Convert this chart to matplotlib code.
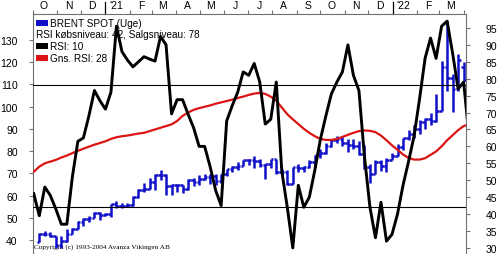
import matplotlib
matplotlib.use("Agg")
import matplotlib.pyplot as plt
import pandas as pd
from matplotlib.patches import Rectangle

plt.rcParams['font.family'] = ['Liberation Sans', 'DejaVu Sans']

# ugebarer (fredag)
uger = pd.date_range("2020-10-09", periods=78, freq="7D")
# RSI-kurverne har en uge før og en uge efter barerne
rsi_uger = pd.date_range("2020-10-02", periods=80, freq="7D")

aabning = [39.3, 42.9, 42.9, 41.8, 37.9, 39.5, 42.8, 45.0, 48.2, 49.3,
           50.0, 52.3, 51.3, 51.8, 56.0, 55.1, 55.4, 55.9, 59.3, 62.4,
           62.9, 66.1, 69.4, 69.2, 64.5, 64.6, 64.9, 63.0, 66.8, 66.1,
           67.3, 68.3, 68.7, 66.4, 69.6, 71.9, 72.7, 73.5, 76.2, 76.2,
           75.6, 73.6, 74.1, 76.3, 70.7, 70.6, 65.2, 72.7, 72.6, 72.9,
           75.3, 78.1, 79.3, 82.4, 84.9, 85.5, 83.7, 82.7, 82.2, 78.9,
           72.7, 69.9, 75.2, 73.5, 76.1, 77.8, 81.8, 86.1, 87.9, 90.0,
           93.3, 94.4, 93.5, 98.0, 118.0, 113.0, 108.0, 118.0]
hoej = [43.2, 43.9, 43.4, 42.0, 41.9, 45.0, 45.2, 48.7, 49.9, 50.9,
        52.5, 52.5, 52.0, 56.4, 57.4, 56.7, 56.6, 59.8, 62.8, 65.5,
        67.7, 69.6, 71.4, 69.7, 65.0, 65.3, 64.9, 67.5, 67.8, 69.1,
        69.9, 69.9, 69.8, 69.7, 72.0, 73.1, 74.9, 76.2, 76.6, 77.8,
        76.6, 74.2, 76.5, 76.3, 72.0, 71.3, 72.7, 74.0, 73.2, 76.1,
        78.4, 80.8, 83.5, 85.1, 86.7, 86.7, 85.3, 85.5, 84.6, 82.9,
        74.0, 76.0, 75.9, 76.9, 79.3, 83.0, 86.1, 89.5, 91.7, 94.0,
        95.0, 97.1, 105.8, 120.5, 138.5, 114.5, 123.5, 120.0]
lav = [39.2, 41.6, 41.5, 36.6, 36.5, 39.3, 42.6, 45.0, 46.2, 48.2,
       49.8, 49.2, 50.6, 50.4, 54.6, 54.6, 54.7, 55.5, 59.0, 61.6,
       62.9, 62.5, 67.0, 60.3, 60.3, 61.5, 61.2, 62.7, 64.5, 64.6,
       67.0, 65.3, 64.6, 65.8, 69.0, 70.8, 71.7, 73.2, 73.8, 72.6,
       72.9, 67.4, 72.3, 69.9, 68.7, 64.6, 65.0, 70.6, 70.6, 72.5,
       73.0, 77.0, 78.9, 81.9, 83.5, 82.1, 79.8, 81.0, 78.2, 72.1,
       65.7, 69.5, 71.0, 70.5, 76.0, 77.8, 80.6, 85.2, 85.8, 87.7,
       89.9, 91.6, 92.9, 98.0, 107.0, 97.5, 107.0, 111.5]
luk = [42.9, 42.9, 41.8, 37.9, 39.5, 42.8, 45.0, 48.2, 49.3, 50.0,
       52.3, 51.3, 51.8, 56.0, 55.1, 55.4, 55.9, 59.3, 62.4, 62.9,
       66.1, 69.4, 69.2, 64.5, 64.6, 64.9, 63.0, 66.8, 66.1, 67.3,
       68.3, 68.7, 66.4, 69.6, 71.9, 72.7, 73.5, 76.2, 76.2, 75.6,
       73.6, 74.1, 76.3, 70.7, 70.6, 65.2, 72.7, 72.6, 72.9, 75.3,
       78.1, 79.3, 82.4, 84.9, 85.5, 83.7, 82.7, 82.2, 78.9, 72.7,
       69.9, 75.2, 73.5, 76.1, 77.8, 81.8, 86.1, 87.9, 90.0, 93.3,
       94.4, 93.5, 97.9, 118.0, 113.0, 108.0, 121.0, 112.0]

rsi = [46, 39.5, 48, 45.5, 41.5, 37, 37, 51, 61.5, 62.5,
       69, 76.5, 73.5, 71, 76, 95.5, 88, 85.5, 83.5, 85,
       86.5, 85.8, 85.2, 92.5, 90, 69.6, 73.8, 73.8, 69.5, 65.5,
       60, 60, 54, 47, 42.5, 67.5, 72, 76, 82, 81,
       84.5, 79, 66.6, 68, 79, 52.7, 42, 30, 48.5, 42,
       45, 53, 62, 69, 75.5, 79, 82, 90, 81, 76.5,
       57, 42, 33, 43.5, 32, 34, 40, 48.5, 55.5, 63,
       74, 86, 92, 86, 95.5, 97, 87.5, 77, 79, 62.5]
gns_rsi = [52.5, 54, 55, 55.5, 56, 56.7, 57.3, 58, 58.7, 59.3,
           59.9, 60.5, 61, 61.5, 62.2, 62.7, 63, 63.2, 63.5, 63.8,
           64, 64.5, 65, 65.5, 66, 66.5, 67.5, 69, 70, 70.8,
           71.3, 71.7, 72.1, 72.6, 73, 73.4, 73.8, 74.3, 74.7, 75.2,
           75.6, 75.8, 75.5, 74.7, 73.5, 71.5, 69.5, 68, 66.6, 65.2,
           64, 63, 62.2, 61.9, 61.9, 62.2, 62.8, 63.4, 64, 64.5,
           64.7, 64.6, 64.2, 63.2, 61.8, 60.3, 59, 57.6, 56.6, 56.1,
           56.1, 56.5, 57.5, 58.5, 60, 61.8, 63.3, 64.8, 66, 66.5]

mdr_labels = ["O", "N", "D", "'21", "F", "M", "A", "M", "J", "J",
              "A", "S", "O", "N", "D", "'22", "F", "M"]

blaa = "#1010c8"
roed = "#dc1414"
graa = "#707070"

fig = plt.figure(figsize=(5, 2.55), dpi=100)
ax = fig.add_axes([0.066, 0.0, 0.866, 0.941])
ax2 = ax.twinx()

# kursbarer: høj-lav streg, åbning til venstre, luk til højre
td = pd.Timedelta(days=3.3)
ax.vlines(uger, lav, hoej, color=blaa, lw=1.8)
ax.hlines(aabning, uger - td, uger, color=blaa, lw=1.8)
ax.hlines(luk, uger, uger + td, color=blaa, lw=1.8)

# RSI og gennemsnit
ax2.axhline(78, color="black", lw=0.8, zorder=1)
ax2.axhline(42, color="black", lw=0.8, zorder=1)
ax2.plot(rsi_uger, gns_rsi, color=roed, lw=1.6, zorder=2)
ax2.plot(rsi_uger, rsi, color="black", lw=2.1, zorder=3)

ax.set_xlim(pd.Timestamp("2020-10-03"), pd.Timestamp("2022-04-04"))
ax.set_ylim(33.7, 141.7)
ax2.set_ylim(28.2, 99.1)

# måneder øverst
mdr_start = pd.date_range("2020-10-01", "2022-04-01", freq="MS")
mdr_midt = pd.date_range("2020-10-01", periods=18, freq="MS") + pd.Timedelta(days=14)
ax.xaxis.tick_top()
ax.set_xticks(mdr_start)
ax.set_xticklabels([])
ax.set_xticks(mdr_midt, minor=True)
ax.set_xticklabels(mdr_labels, minor=True)
ax.tick_params(axis="x", which="major", direction="out", length=3, color=graa, width=0.8)
ax.tick_params(axis="x", which="minor", length=0, pad=3, labelsize=7.5)
for aar in ["2021-01-01", "2022-01-01"]:
    ax.plot([pd.Timestamp(aar)] * 2, [1.0, 1.05], color="black", lw=0.9,
            transform=ax.get_xaxis_transform(), clip_on=False)
ax2.tick_params(axis="x", which="both", length=0, labeltop=False, labelbottom=False)

ax.set_yticks(range(40, 131, 10))
ax.tick_params(axis="y", direction="out", length=3, pad=8, labelsize=7.5, color=graa)
ax2.set_yticks(range(30, 96, 5))
ax2.tick_params(axis="y", direction="out", length=3, pad=11, labelsize=7.5, color=graa)

for a in (ax, ax2):
    a.spines["bottom"].set_visible(False)
    for s in ("top", "left", "right"):
        a.spines[s].set_color(graa)
        a.spines[s].set_linewidth(0.8)
ax.spines["right"].set_visible(False)
ax2.spines["left"].set_visible(False)
ax2.spines["top"].set_visible(False)

# forklaring i øverste venstre hjørne
rk = [(0.9625, blaa, "BRENT SPOT (Uge)"),
      (0.9167, None, "RSI købsniveau: 42, Salgsniveau: 78"),
      (0.8667, "black", "RSI: 10"),
      (0.8167, roed, "Gns. RSI: 28")]
for y, farve, tekst in rk:
    if farve is None:
        ax.text(0.007, y, tekst, transform=ax.transAxes, va="center", fontsize=7.2, zorder=1)
    else:
        ax.add_patch(Rectangle((0.007, y - 0.011), 0.028, 0.022, transform=ax.transAxes,
                               facecolor=farve, edgecolor="none", zorder=1))
        ax.text(0.039, y, tekst, transform=ax.transAxes, va="center", fontsize=7.2, zorder=1)

ax.text(0.002, 0.033, "Copyright (c) 1993-2004 Avanza Vikingen AB", transform=ax.transAxes,
        va="center", fontsize=5.2, family=["Liberation Serif", "DejaVu Serif"], zorder=1)

plt.savefig("out.png", dpi=100)
